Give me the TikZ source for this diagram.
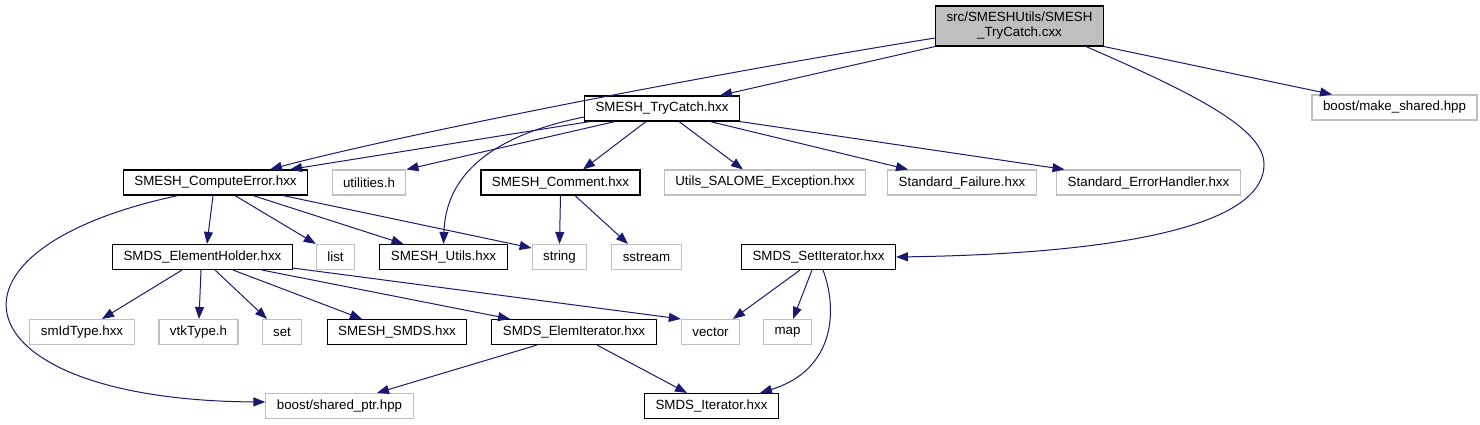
\documentclass[tikz,border=0pt]{standalone}
\usepackage{fontspec}
\setmainfont{Liberation Sans}
\usepackage{xcolor}
\usetikzlibrary{arrows.meta}
\definecolor{edgeblue}{HTML}{191970}
\definecolor{boxgray}{HTML}{BFBFBF}

\begin{document}
\begin{tikzpicture}[x=1pt,y=-1pt,
every node/.style={font=\fontsize{13.33}{15}\selectfont, inner xsep=11pt, inner ysep=0pt,
minimum height=25pt}, box/.style={draw=black,line width=1.1pt},
extbox/.style={draw=boxgray,line width=1.1pt},
arr/.style={-{Triangle[length=12pt,width=9pt]},draw=edgeblue,line width=1pt}]
\useasboundingbox (0,0) rectangle (1480,425);

% top
\node[box,fill=boxgray,minimum height=40pt,align=center] (root) at (1019.5,26) {src/SMESHUtils/SMESH\\\_TryCatch.cxx};
\node[box] (trycatch) at (662,108.5) {SMESH\_TryCatch.hxx};
\node[extbox] (makeshared) at (1394.5,107.5) {boost/make\_shared.hpp};

% second row
\node[box] (computeerror) at (215.5,182.5) {SMESH\_ComputeError.hxx};
\node[extbox] (utilities) at (369,182.5) {utilities.h};
\node[box] (comment) at (560.5,182.5) {SMESH\_Comment.hxx};
\node[extbox] (salomeexc) at (765,182.5) {Utils\_SALOME\_Exception.hxx};
\node[extbox] (stdfailure) at (962,182.5) {Standard\_Failure.hxx};
\node[extbox] (stderrhandler) at (1148.5,182.5) {Standard\_ErrorHandler.hxx};

% third row
\node[box] (elemholder) at (202.5,257) {SMDS\_ElementHolder.hxx};
\node[extbox] (list) at (335.5,257) {list};
\node[box] (smeshutils) at (443.5,257) {SMESH\_Utils.hxx};
\node[extbox] (string) at (559.5,257) {string};
\node[extbox] (sstream) at (646.5,257) {sstream};
\node[box] (setiter) at (818.5,257) {SMDS\_SetIterator.hxx};

% fourth row
\node[extbox] (smidtype) at (82,332) {smIdType.hxx};
\node[extbox] (vtktype) at (198.5,332) {vtkType.h};
\node[extbox] (set) at (282,332) {set};
\node[box] (smeshsmds) at (397,332) {SMESH\_SMDS.hxx};
\node[box] (elemiter) at (574,332) {SMDS\_ElemIterator.hxx};
\node[extbox] (vector) at (710.5,332) {vector};
\node[extbox] (map) at (787.5,332) {map};

% bottom
\node[extbox] (sharedptr) at (339.5,406) {boost/shared\_ptr.hpp};
\node[box] (iterator) at (711.5,406) {SMDS\_Iterator.hxx};

% includes of the source file
\draw[arr] ([yshift=-12pt]root.west) .. controls +(-250,40) and +(115,-31) .. ([xshift=54.5pt]computeerror.north);
\draw[arr] (root.south west) -- ([xshift=58pt]trycatch.north);
\draw[arr] (root.south east) -- ([xshift=-62.5pt]makeshared.north);
\draw[arr] ([xshift=-18pt]root.south east) .. controls +(113,49) and +(1,-35) .. (1264,165)
  .. controls +(-1,65) and +(204,-3) .. (setiter.east);

% SMESH_TryCatch.hxx
\draw[arr] ([xshift=-72pt]trycatch.south) -- ([xshift=74.5pt]computeerror.north);
\draw[arr] ([xshift=-47pt]trycatch.south) -- (utilities.north east);
\draw[arr] ([yshift=-8.5pt]trycatch.west) .. controls +(-114,23) and +(2,-54) .. (smeshutils.north);
\draw[arr] ([xshift=-16pt]trycatch.south) -- ([xshift=22.5pt]comment.north);
\draw[arr] ([xshift=17pt]trycatch.south) -- ([xshift=-22pt]salomeexc.north);
\draw[arr] ([xshift=48pt]trycatch.south) -- ([xshift=-54pt]stdfailure.north);
\draw[arr] (trycatch.south east) -- ([xshift=-84pt]stderrhandler.north);

% SMESH_ComputeError.hxx
\draw[arr] ([xshift=-2.5pt]computeerror.south) -- ([xshift=4.5pt]elemholder.north);
\draw[arr] ([xshift=19.5pt]computeerror.south) -- (list.north west);
\draw[arr] ([xshift=37.5pt]computeerror.south) -- ([xshift=-40pt]smeshutils.north);
\draw[arr] ([xshift=67.5pt]computeerror.south) -- ([yshift=9pt]string.west);
\draw[arr] ([xshift=-37.5pt]computeerror.south) .. controls +(-258,55) and +(-307,-2) .. ([yshift=4pt]sharedptr.west);

% SMESH_Comment.hxx
\draw[arr] (comment.south) -- (string.north);
\draw[arr] ([xshift=14.5pt]comment.south) -- ([xshift=-18.5pt]sstream.north);

% SMDS_ElementHolder.hxx
\draw[arr] ([xshift=-20.5pt]elemholder.south) -- ([xshift=20pt]smidtype.north);
\draw[arr] ([xshift=-1.5pt]elemholder.south) -- ([xshift=0.5pt]vtktype.north);
\draw[arr] ([xshift=12.5pt]elemholder.south) -- ([xshift=-15pt]set.north);
\draw[arr] ([xshift=30.5pt]elemholder.south) -- ([xshift=-35pt]smeshsmds.north);
\draw[arr] ([xshift=59.5pt]elemholder.south) -- ([xshift=-64pt]elemiter.north);
\draw[arr] ([yshift=2pt]elemholder.south east) -- (vector.north west);

% SMDS_SetIterator.hxx
\draw[arr] ([xshift=-18.5pt]setiter.south) -- ([xshift=22.5pt]vector.north);
\draw[arr] ([xshift=-6.5pt]setiter.south) -- ([xshift=5.5pt]map.north);
\draw[arr] ([xshift=4.5pt]setiter.south) .. controls +(15,40) and +(75,-23) .. ([xshift=48.5pt]iterator.north);

% SMDS_ElemIterator.hxx
\draw[arr] ([xshift=-37pt]elemiter.south) -- ([xshift=37.5pt]sharedptr.north);
\draw[arr] ([xshift=23pt]elemiter.south) -- ([xshift=-24.5pt]iterator.north);
\end{tikzpicture}
\end{document}
